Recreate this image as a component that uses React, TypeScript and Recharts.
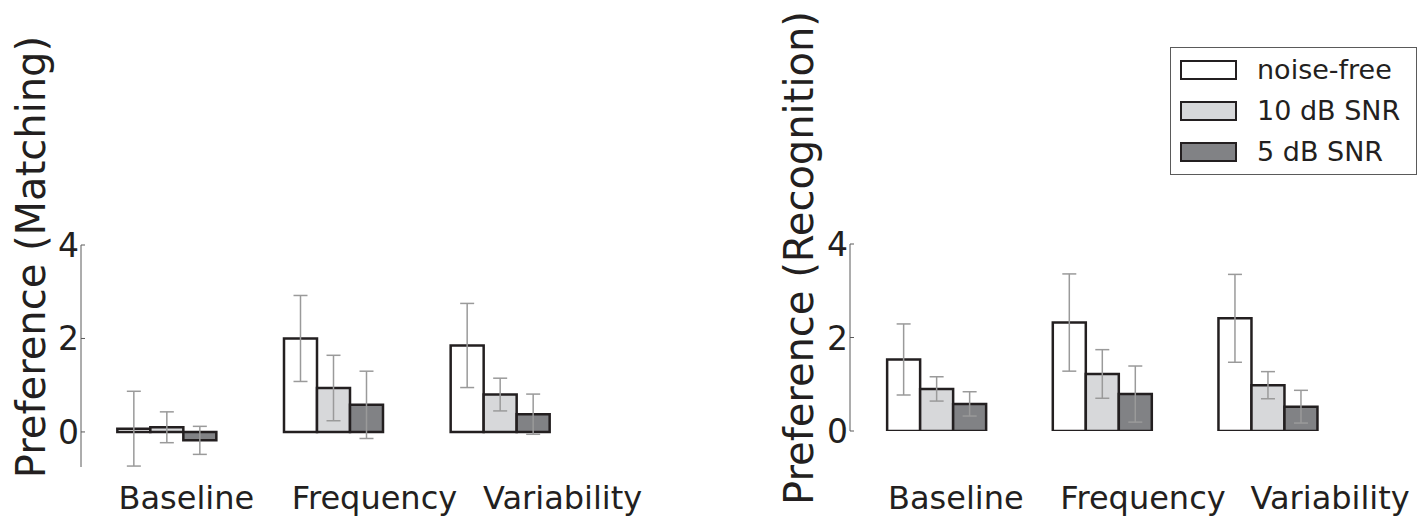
import { BarChart, Bar, XAxis, YAxis, ErrorBar } from "recharts";

const categories = ["Baseline", "Frequency", "Variability"];
const seriesNames = ["noise-free", "10 dB SNR", "5 dB SNR"];
const seriesFills = ["#ffffff", "#d7d8da", "#818285"];
const yTicks = [0, 2, 4];

// Matching panel (left)
const matchingNoiseFree = [0.07, 2.0, 1.85];
const matchingSnr10 = [0.1, 0.94, 0.8];
const matchingSnr5 = [-0.18, 0.58, 0.38];
const matchingNoiseFreeErr = [0.8, 0.92, 0.9];
const matchingSnr10Err = [0.33, 0.7, 0.35];
const matchingSnr5Err = [0.3, 0.72, 0.43];

// Recognition panel (right)
const recognitionNoiseFree = [1.53, 2.32, 2.41];
const recognitionSnr10 = [0.9, 1.22, 0.98];
const recognitionSnr5 = [0.58, 0.79, 0.52];
const recognitionNoiseFreeErr = [0.76, 1.04, 0.94];
const recognitionSnr10Err = [0.26, 0.52, 0.29];
const recognitionSnr5Err = [0.26, 0.6, 0.35];

const FONT = "'DejaVu Sans', Verdana, sans-serif";
const TEXT = "#231f20";
const AXIS = "#5a5a5a";
const ERR = "#9a9a9a";

function buildRows(a: number[], b: number[], c: number[], ea: number[], eb: number[], ec: number[]) {
  return categories.map((name, i) => ({
    name,
    s0: a[i],
    s1: b[i],
    s2: c[i],
    e0: ea[i],
    e1: eb[i],
    e2: ec[i],
  }));
}

const matchingRows = buildRows(
  matchingNoiseFree,
  matchingSnr10,
  matchingSnr5,
  matchingNoiseFreeErr,
  matchingSnr10Err,
  matchingSnr5Err
);
const recognitionRows = buildRows(
  recognitionNoiseFree,
  recognitionSnr10,
  recognitionSnr5,
  recognitionNoiseFreeErr,
  recognitionSnr10Err,
  recognitionSnr5Err
);

// inward tick mark + label, matplotlib style
function YTick({ x, y, payload }: any) {
  return (
    <g>
      <line x1={x} x2={x + 4} y1={y} y2={y} stroke={AXIS} strokeWidth={1} />
      <text x={x - 2} y={y + 12} textAnchor="end" fontSize={33} fill={TEXT} fontFamily={FONT}>
        {payload.value}
      </text>
    </g>
  );
}

// the original tick labels sit a bit right of the bar groups, drifting further right per group
const makeXTick = (dy: number) =>
  function XTick({ x, y, payload, index }: any) {
    return (
      <text
        x={x + 19 + 21.5 * index}
        y={y + dy}
        textAnchor="middle"
        fontSize={32}
        fill={TEXT}
        fontFamily={FONT}
      >
        {payload.value}
      </text>
    );
  };

interface PanelProps {
  rows: ReturnType<typeof buildRows>;
  width: number;
  marginTop: number;
  marginRight: number;
  yWidth: number;
  xHeight: number;
  domain: [number, number];
  padLeft: number;
  label: string;
  labelX: number;
  labelY: number;
  tickDy: number;
}

function Panel({
  rows,
  width,
  marginTop,
  marginRight,
  yWidth,
  xHeight,
  domain,
  padLeft,
  label,
  labelX,
  labelY,
  tickDy,
}: PanelProps) {
  const renderLabel = () => (
    <text
      transform={`translate(${labelX},${labelY}) rotate(-90)`}
      textAnchor="middle"
      fontSize={40}
      fill={TEXT}
      fontFamily={FONT}
    >
      {label}
    </text>
  );

  return (
    <BarChart
      width={width}
      height={519}
      data={rows}
      margin={{ top: marginTop, right: marginRight, bottom: 0, left: 0 }}
      barCategoryGap="20%"
      barGap={0}
      style={{ overflow: "visible" }}
    >
      <XAxis
        dataKey="name"
        axisLine={false}
        tickLine={false}
        tickSize={0}
        tickMargin={0}
        height={xHeight}
        padding={{ left: padLeft, right: 0 }}
        tick={makeXTick(tickDy)}
        interval={0}
      />
      <YAxis
        width={yWidth}
        domain={domain}
        ticks={yTicks}
        allowDataOverflow
        axisLine={{ stroke: AXIS, strokeWidth: 1 }}
        tickLine={false}
        tickSize={0}
        tickMargin={0}
        tick={<YTick />}
        label={{ content: renderLabel }}
      />
      {["s0", "s1", "s2"].map((key, i) => (
        <Bar
          key={key}
          dataKey={key}
          name={seriesNames[i]}
          fill={seriesFills[i]}
          stroke="#231f20"
          strokeWidth={2.5}
          isAnimationActive={false}
        >
          <ErrorBar dataKey={`e${i}`} direction="y" width={7} stroke={ERR} strokeWidth={1.5} />
        </Bar>
      ))}
    </BarChart>
  );
}

export default function App() {
  return (
    <div
      style={{
        position: "absolute",
        left: 0,
        top: 0,
        width: 1426,
        height: 519,
        background: "#fff",
        overflow: "hidden",
      }}
    >
      <div style={{ position: "absolute", left: 0, top: 0 }}>
        <Panel
          rows={matchingRows}
          width={700}
          marginTop={245}
          marginRight={116}
          yWidth={81}
          xHeight={52}
          domain={[-0.75, 4]}
          padLeft={3}
          label="Preference (Matching)"
          labelX={45}
          labelY={257}
          tickDy={42}
        />
      </div>
      <div style={{ position: "absolute", left: 700, top: 0 }}>
        <Panel
          rows={recognitionRows}
          width={726}
          marginTop={244}
          marginRight={75}
          yWidth={150}
          xHeight={88}
          domain={[0, 4]}
          padLeft={4}
          label="Preference (Recognition)"
          labelX={113}
          labelY={258}
          tickDy={78}
        />
      </div>
      <div
        style={{
          position: "absolute",
          left: 1170,
          top: 47,
          width: 247,
          height: 128,
          border: `1.5px solid ${AXIS}`,
          boxSizing: "border-box",
          background: "#fff",
        }}
      >
        {seriesNames.map((n, i) => (
          <div
            key={n}
            style={{
              position: "absolute",
              left: 9,
              top: 12 + i * 41,
              height: 20,
              display: "flex",
              alignItems: "center",
            }}
          >
            <div
              style={{
                width: 57,
                height: 20,
                background: seriesFills[i],
                border: "2.5px solid #231f20",
                boxSizing: "border-box",
              }}
            />
            <span
              style={{
                marginLeft: 20,
                fontSize: 27,
                fontFamily: FONT,
                color: TEXT,
                lineHeight: "20px",
                whiteSpace: "nowrap",
              }}
            >
              {n}
            </span>
          </div>
        ))}
      </div>
    </div>
  );
}
